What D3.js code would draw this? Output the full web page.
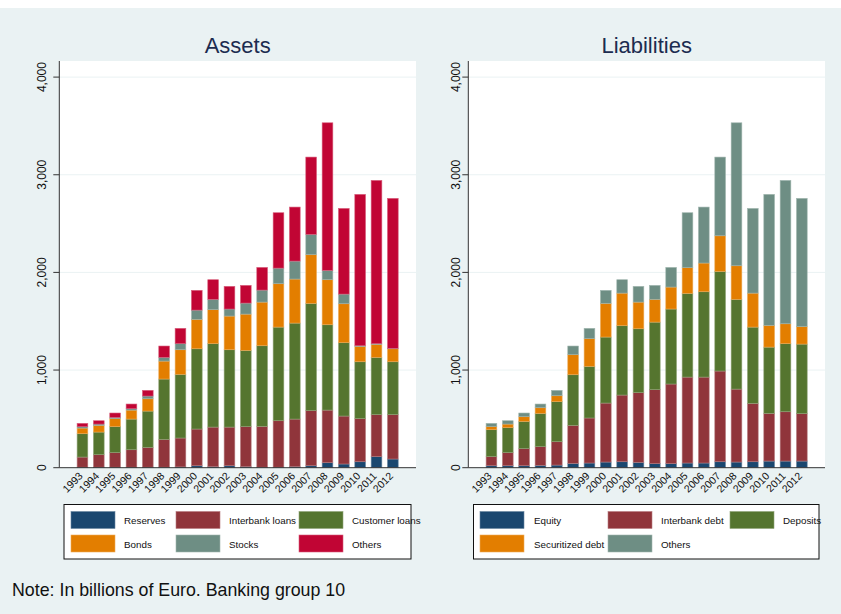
<!DOCTYPE html>
<html>
<head>
<meta charset="utf-8">
<script src="https://cdn.jsdelivr.net/npm/d3@7"></script>
<style>
  body { margin: 0; background: #fff; }
  svg { display: block; font-family: "Liberation Sans", Arial, sans-serif; }
</style>
</head>
<body>
<svg id="chart" width="841" height="614"></svg>
<script>
// values in billions of Euro
const years = d3.range(1993, 2013).map(String)

const assetKeys = ['Reserves', 'Interbank loans', 'Customer loans', 'Bonds', 'Stocks', 'Others']
const reserves       = [5, 5, 5, 5, 5, 5, 8, 20, 10, 20, 10, 5, 5, 10, 20, 51, 38, 61, 113, 89]
const interbankLoans = [104, 128, 149, 179, 203, 285, 296, 376, 406, 396, 410, 418, 476, 488, 564, 539, 491, 441, 430, 454]
const customerLoans  = [239, 232, 266, 314, 372, 618, 652, 822, 854, 792, 781, 826, 959, 983, 1099, 874, 751, 583, 587, 542]
const bonds          = [58, 68, 82, 92, 126, 184, 252, 301, 348, 345, 372, 447, 444, 451, 498, 461, 399, 157, 133, 133]
const stocks         = [14, 14, 13, 14, 28, 38, 62, 95, 106, 72, 113, 123, 160, 184, 208, 95, 99, 7, 7, 4]
const otherAssets    = [34, 34, 45, 48, 58, 116, 157, 202, 201, 232, 181, 232, 567, 553, 792, 1512, 877, 1550, 1672, 1536]

const liabKeys = ['Equity', 'Interbank debt', 'Deposits', 'Securitized debt', 'Others']
const equity          = [20, 20, 20, 24, 27, 44, 48, 58, 61, 55, 41, 41, 48, 48, 61, 58, 61, 68, 68, 68]
const interbankDebt   = [93, 134, 175, 191, 239, 389, 461, 604, 683, 713, 758, 816, 880, 880, 929, 747, 598, 488, 505, 485]
const deposits        = [276, 256, 279, 341, 410, 519, 529, 676, 710, 655, 692, 768, 857, 874, 1020, 919, 781, 679, 697, 713]
const securitizedDebt = [31, 37, 48, 58, 61, 205, 283, 345, 334, 273, 233, 225, 263, 294, 365, 344, 348, 222, 204, 178]
const otherLiabs      = [34, 34, 38, 38, 55, 89, 106, 133, 137, 161, 143, 201, 563, 573, 806, 1464, 867, 1342, 1468, 1314]

const yTicks = [0, 1000, 2000, 3000, 4000]

const colors = ['#1a476f', '#90353b', '#55752f', '#e37e00', '#6e8e84', '#c10534']
const liabColors = ['#1a476f', '#90353b', '#55752f', '#e37e00', '#6e8e84']

const toRows = (keys, series) => years.map((yr, i) => {
	let row = { year: yr }
	keys.forEach((k, j) => row[k] = series[j][i])
	return row
})

const svg = d3.select('#chart')

svg.append('rect').attr('width', 841).attr('height', 614).attr('fill', '#eaf2f3')
svg.append('rect').attr('width', 841).attr('height', 8).attr('fill', '#fff')

const plotTop = 61, plotBottom = 467.7

const drawPanel = (cfg) => {

	const g = svg.append('g')

	const x = d3.scaleBand()
		.domain(years)
		.range([cfg.left, cfg.left + 356.7])
		.paddingInner(0.345)
		.paddingOuter(1.09)

	const y = d3.scaleLinear()
		.domain([0, 4000])
		.range([plotBottom, 77.1])

	g.append('rect')
		.attr('x', cfg.left).attr('y', plotTop)
		.attr('width', 356.7).attr('height', plotBottom - plotTop)
		.attr('fill', '#fff')

	// grid
	g.selectAll('.grid')
		.data(yTicks.slice(1))
		.enter()
		.append('line')
		.attr('x1', cfg.left).attr('x2', cfg.left + 356.7)
		.attr('y1', d => y(d)).attr('y2', d => y(d))
		.attr('stroke', '#eaf2f3')
		.attr('stroke-width', 1)

	const stacked = d3.stack().keys(cfg.keys)(toRows(cfg.keys, cfg.series))

	g.selectAll('.layer')
		.data(stacked)
		.enter()
		.append('g')
		.attr('fill', (d, i) => cfg.colors[i])
		.attr('stroke', (d, i) => d3.interpolateRgb(cfg.colors[i], '#fff')(0.35))
		.attr('stroke-width', 0.6)
		.selectAll('rect')
		.data(d => d)
		.enter()
		.append('rect')
		.attr('x', d => x(d.data.year))
		.attr('width', x.bandwidth())
		.attr('y', d => y(d[1]))
		.attr('height', d => y(d[0]) - y(d[1]))

	// axes
	g.append('line')
		.attr('x1', cfg.left).attr('x2', cfg.left)
		.attr('y1', plotTop).attr('y2', plotBottom)
		.attr('stroke', '#333').attr('stroke-width', 1)

	g.append('line')
		.attr('x1', cfg.left).attr('x2', cfg.left + 356.7)
		.attr('y1', plotBottom).attr('y2', plotBottom)
		.attr('stroke', '#333').attr('stroke-width', 1)

	g.selectAll('.ytick')
		.data(yTicks)
		.enter()
		.append('line')
		.attr('x1', cfg.left - 6).attr('x2', cfg.left)
		.attr('y1', d => y(d)).attr('y2', d => y(d))
		.attr('stroke', '#333')

	g.selectAll('.ylab')
		.data(yTicks)
		.enter()
		.append('text')
		.attr('transform', d => `translate(${cfg.labelX},${y(d)}) rotate(-90)`)
		.attr('text-anchor', 'middle')
		.attr('font-size', 12)
		.attr('fill', '#111')
		.text(d3.format(','))

	g.selectAll('.xlab')
		.data(years)
		.enter()
		.append('text')
		.attr('transform', d => `translate(${x(d) + x.bandwidth() / 2 + 1},${plotBottom + 9}) rotate(-45)`)
		.attr('text-anchor', 'end')
		.attr('font-size', 10.5)
		.attr('fill', '#111')
		.text(d => d)

	g.append('text')
		.attr('x', cfg.left + 356.7 / 2)
		.attr('y', 53)
		.attr('text-anchor', 'middle')
		.attr('font-size', 22)
		.attr('fill', '#1c2c50')
		.text(cfg.title)

	// legend
	const lg = g.append('g')
	lg.append('rect')
		.attr('x', cfg.legend.x).attr('y', 504.5)
		.attr('width', cfg.legend.w).attr('height', 54.5)
		.attr('fill', '#fff').attr('stroke', '#111').attr('stroke-width', 1)

	cfg.keys.forEach((k, i) => {
		const col = i % 3, row = Math.floor(i / 3)
		const sy = 511.5 + row * 23.5
		lg.append('rect')
			.attr('x', cfg.legend.sw[col]).attr('y', sy)
			.attr('width', 44).attr('height', 17)
			.attr('fill', cfg.colors[i])
			.attr('stroke', d3.interpolateRgb(cfg.colors[i], '#fff')(0.35))
			.attr('stroke-width', 0.6)
		lg.append('text')
			.attr('x', cfg.legend.tx[col]).attr('y', sy + 12.5)
			.attr('font-size', 9.8)
			.attr('fill', '#111')
			.text(k)
	})
}

drawPanel({
	title: 'Assets',
	left: 59.3,
	labelX: 46,
	keys: assetKeys,
	series: [reserves, interbankLoans, customerLoans, bonds, stocks, otherAssets],
	colors: colors,
	legend: { x: 64, w: 347, sw: [71, 176, 299], tx: [124, 229, 352] }
})

drawPanel({
	title: 'Liabilities',
	left: 468.3,
	labelX: 460,
	keys: liabKeys,
	series: [equity, interbankDebt, deposits, securitizedDebt, otherLiabs],
	colors: liabColors,
	legend: { x: 473.5, w: 345.5, sw: [480, 608, 730], tx: [534, 661, 783] }
})

svg.append('text')
	.attr('x', 12)
	.attr('y', 596)
	.attr('font-size', 17.8)
	.attr('fill', '#111')
	.text('Note: In billions of Euro. Banking group 10')
</script>
</body>
</html>
